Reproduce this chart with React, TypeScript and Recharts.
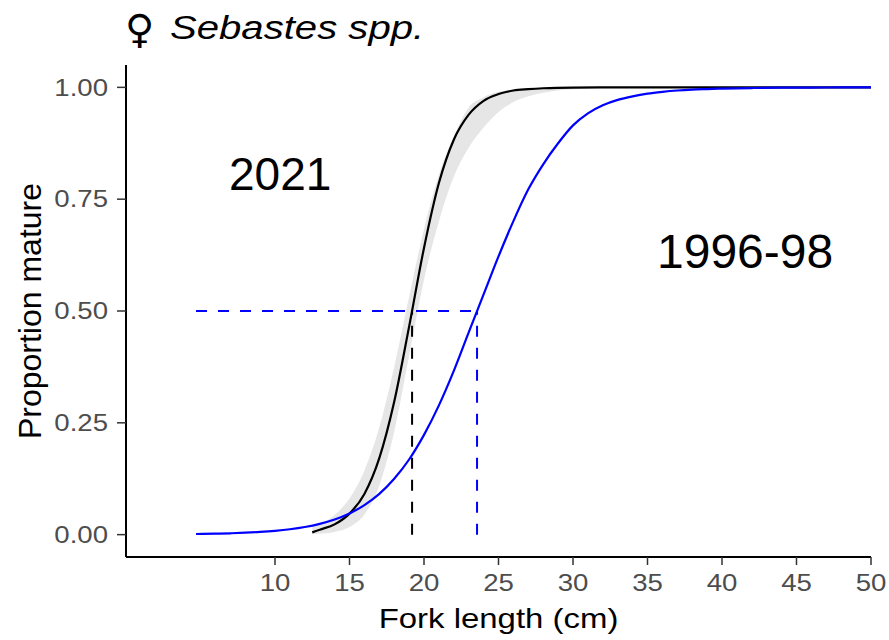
import { ComposedChart, Line, Area, XAxis, YAxis, ReferenceLine, Label } from 'recharts';

const FONT = '"Liberation Sans", Arial, sans-serif';

// 1996-98 maturity ogive (blue)
const lenOld = [4.7, 6, 7, 8, 9, 10, 11, 12, 13, 14, 15, 16, 17, 18, 19, 20, 21, 22, 23, 24, 25, 26, 27, 28, 29, 30, 31, 32, 33, 34, 35, 36, 37, 38, 39, 40, 42, 44, 46, 48, 50];
const propOld = [0.0014, 0.0021, 0.003, 0.0043, 0.0061, 0.0086, 0.0121, 0.0171, 0.0242, 0.0339, 0.0474, 0.066, 0.0911, 0.125, 0.168, 0.223, 0.289, 0.366, 0.452, 0.537, 0.622, 0.701, 0.772, 0.828, 0.875, 0.915, 0.942, 0.96, 0.972, 0.98, 0.986, 0.99, 0.993, 0.9950, 0.9962, 0.9972, 0.9985, 0.9992, 0.9996, 0.9998, 0.9999];

// 2021 maturity ogive (black) with confidence band
const lenNew = [12.5, 13, 14, 15, 16, 17, 18, 19, 20, 21, 22, 23, 24, 25, 26, 27, 28, 30, 35, 40, 45, 50];
const propNew = [0.005, 0.011, 0.023, 0.047, 0.091, 0.171, 0.297, 0.465, 0.641, 0.786, 0.883, 0.939, 0.97, 0.985, 0.993, 0.996, 0.998, 0.9995, 1, 1, 1, 1];
const ciLow = [0.001, 0.002, 0.006, 0.017, 0.045, 0.11, 0.23, 0.4, 0.57, 0.7, 0.8, 0.865, 0.91, 0.945, 0.967, 0.98, 0.988, 0.996, 0.9995, 1, 1, 1];
const ciHigh = [0.018, 0.024, 0.044, 0.081, 0.143, 0.24, 0.375, 0.532, 0.683, 0.804, 0.89, 0.955, 0.978, 0.99, 0.995, 0.998, 0.999, 1, 1, 1, 1, 1];

// length at 50% maturity
const l50New = 19.2;
const l50Old = 23.56;

const xTicks = [10, 15, 20, 25, 30, 35, 40, 45, 50];
const yTicks = [0, 0.25, 0.5, 0.75, 1];

const oldData = lenOld.map((x, i) => ({ x, p: propOld[i] }));
const newData = lenNew.map((x, i) => ({ x, p: propNew[i], lo: ciLow[i], hi: ciHigh[i] }));

const XTick = ({ x, y, payload }: any) => (
  <text
    transform={`translate(${x},${y}) scale(1.2,1)`}
    textAnchor="middle"
    dy="0.71em"
    fontSize={23}
    fill="#4d4d4d"
    fontFamily={FONT}
  >
    {payload.value}
  </text>
);

const YTick = ({ x, y, payload }: any) => (
  <text
    transform={`translate(${x},${y}) scale(1.2,1)`}
    textAnchor="end"
    dy="0.36em"
    fontSize={23}
    fill="#4d4d4d"
    fontFamily={FONT}
  >
    {Number(payload.value).toFixed(2)}
  </text>
);

export default function App() {
  return (
    <div style={{ position: 'absolute', left: 0, top: 0, width: 889, height: 640, background: '#fff' }}>
      <ComposedChart
        width={889}
        height={640}
        margin={{ top: 65, right: 18, bottom: 0, left: 0 }}
      >
        <XAxis
          type="number"
          dataKey="x"
          domain={[0, 50]}
          ticks={xTicks}
          interval={0}
          allowDataOverflow
          height={83}
          axisLine={{ stroke: '#000', strokeWidth: 2 }}
          tickLine={{ stroke: '#333', strokeWidth: 1.5 }}
          tickSize={8}
          tickMargin={10}
          tick={<XTick />}
        >
          <Label
            content={({ viewBox }: any) => {
              const vb = viewBox || { x: 126, y: 557, width: 745 };
              return (
                <text
                  transform={`translate(${vb.x + vb.width / 2},${vb.y + 71}) scale(1.22,1)`}
                  textAnchor="middle"
                  fontSize={27}
                  fill="#000"
                  fontFamily={FONT}
                >
                  Fork length (cm)
                </text>
              );
            }}
          />
        </XAxis>
        <YAxis
          type="number"
          domain={[-0.05, 1.05]}
          ticks={yTicks}
          interval={0}
          allowDataOverflow
          width={126}
          axisLine={{ stroke: '#000', strokeWidth: 2 }}
          tickLine={{ stroke: '#333', strokeWidth: 1.5 }}
          tickSize={9}
          tickMargin={9}
          tick={<YTick />}
        >
          <Label
            content={({ viewBox }: any) => {
              const vb = viewBox || { x: 0, y: 65, height: 492 };
              return (
                <text
                  transform={`translate(41,${vb.y + vb.height / 2}) rotate(-90)`}
                  textAnchor="middle"
                  fontSize={32}
                  fill="#000"
                  fontFamily={FONT}
                >
                  Proportion mature
                </text>
              );
            }}
          />
        </YAxis>
        <Area
          data={newData}
          dataKey={(d: any) => [d.lo, d.hi]}
          type="monotone"
          stroke="none"
          fill="#e6e6e6"
          fillOpacity={1}
          isAnimationActive={false}
        />
        <Line
          data={newData}
          dataKey="p"
          type="monotone"
          stroke="#000"
          strokeWidth={2.2}
          dot={false}
          isAnimationActive={false}
        />
        <Line
          data={oldData}
          dataKey="p"
          type="monotone"
          stroke="#0000ff"
          strokeWidth={2.2}
          dot={false}
          isAnimationActive={false}
        />
        <ReferenceLine
          segment={[{ x: l50New, y: 0 }, { x: l50New, y: 0.5 }]}
          stroke="#000"
          strokeWidth={2}
          strokeDasharray="11 11"
        />
        <ReferenceLine
          segment={[{ x: l50Old, y: 0 }, { x: l50Old, y: 0.5 }]}
          stroke="#0000ff"
          strokeWidth={2}
          strokeDasharray="11 11"
        />
        <ReferenceLine
          segment={[{ x: lenOld[0], y: 0.5 }, { x: l50Old, y: 0.5 }]}
          stroke="#0000ff"
          strokeWidth={2}
          strokeDasharray="11 11"
        />
      </ComposedChart>
      <svg
        width={889}
        height={640}
        style={{ position: 'absolute', left: 0, top: 0, pointerEvents: 'none' }}
      >
        <text x={125} y={43} fontSize={40} fill="#000" fontFamily='"DejaVu Sans", sans-serif'>♀</text>
        <text
          transform="translate(170,39) scale(1.18,1)"
          fontSize={34}
          fontStyle="italic"
          fill="#000"
          fontFamily={FONT}
        >
          Sebastes spp.
        </text>
        <text x={229} y={190} fontSize={46} fill="#000" fontFamily={FONT}>2021</text>
        <text x={657} y={268} fontSize={48} fill="#000" fontFamily={FONT}>1996-98</text>
      </svg>
    </div>
  );
}
